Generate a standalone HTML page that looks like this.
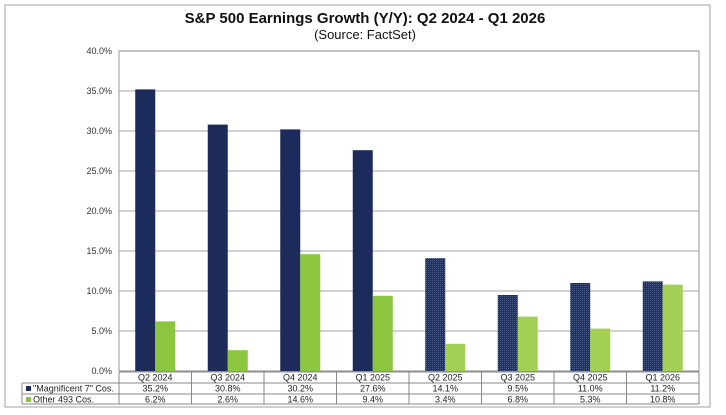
<!DOCTYPE html>
<html><head><meta charset="utf-8"><style>
body{margin:0;background:#fff;}
svg{display:block;font-family:"Liberation Sans",Arial,sans-serif;}
</style></head><body>
<svg id="c" width="726" height="415">
<defs>
<pattern id="dots" width="2" height="2" patternUnits="userSpaceOnUse">
<rect width="2" height="2" fill="#22315e"/><rect x="0" y="0" width="1" height="1" fill="#4a5a86"/>
</pattern>
</defs>
<rect x="5" y="5" width="705" height="402" fill="#fff" stroke="#a0a0a0"/>
<text x="365" y="23" text-anchor="middle" font-size="15" font-weight="bold" fill="#111">S&amp;P 500 Earnings Growth (Y/Y): Q2 2024 - Q1 2026</text>
<text x="365" y="39" text-anchor="middle" font-size="13" fill="#111">(Source: FactSet)</text>
<g id="grid"></g><g id="bars"></g><g id="table"></g>
</svg>
<script>
const categories=["Q2 2024","Q3 2024","Q4 2024","Q1 2025","Q2 2025","Q3 2025","Q4 2025","Q1 2026"];
const mag7=[35.2,30.8,30.2,27.6,14.1,9.5,11.0,11.2];
const other493=[6.2,2.6,14.6,9.4,3.4,6.8,5.3,10.8];
const yTicks=[0,5,10,15,20,25,30,35,40];
const estimateFrom=4;
const NS="http://www.w3.org/2000/svg";
const L=119,R=699,T=51,B=371,yMax=40;
const cw=(R-L)/categories.length;
const y=v=>B-(v/yMax)*(B-T);
const xc=i=>L+cw*(i+0.5);
function mk(tag,attrs,parent,text){const e=document.createElementNS(NS,tag);for(const k in attrs)e.setAttribute(k,attrs[k]);if(text!==undefined)e.textContent=text;document.getElementById(parent).appendChild(e);return e;}
yTicks.forEach(t=>{
 const g=mk('line',{x1:L,x2:R,y1:y(t),y2:y(t),stroke:'#b8b8b8','stroke-width':1.2},'grid');
 
 
 const lb=mk('text',{x:L-7,y:y(t)+3,'text-anchor':'end','font-size':9,fill:'#333'},'grid',t.toFixed(1)+'%');
 
 
});
const pb=mk('rect',{x:L,y:T,width:R-L,height:B-T,fill:'none',stroke:'#999'},'grid');


categories.forEach((c,i)=>{
 const cx=xc(i);
 const b1=mk('rect',{x:cx-20,y:y(mag7[i]),width:20,height:B-y(mag7[i]),fill:i>=estimateFrom?'url(#dots)':'#1c2b5a'},'bars');
 
 
 const b2=mk('rect',{x:cx,y:y(other493[i]),width:20,height:B-y(other493[i]),fill:i>=estimateFrom?'#a3cf55':'#8cc63e'},'bars');
 
 
});
const rows=[372,383,394,404];
const tl=22;
[[L,rows[0],R,rows[0]],[tl,rows[1],R,rows[1]],[tl,rows[2],R,rows[2]],[tl,rows[3],R,rows[3]],[tl,rows[1],tl,rows[3]],[R,rows[0],R,rows[3]]].forEach(a=>{
 const ln=mk('line',{x1:a[0],y1:a[1],x2:a[2],y2:a[3],stroke:'#888'},'table');
 
 
});
for(let i=0;i<=categories.length;i++){
 const ln=mk('line',{x1:L+cw*i,y1:rows[0],x2:L+cw*i,y2:rows[3],stroke:'#888'},'table');
 
 
}
categories.forEach((c,i)=>{
 const t=mk('text',{x:xc(i),y:rows[0]+8.5,'text-anchor':'middle','font-size':9,fill:'#222'},'table',c);
 
 
 const a=mk('text',{x:xc(i),y:rows[1]+8.5,'text-anchor':'middle','font-size':9,fill:'#222'},'table',mag7[i].toFixed(1)+'%');
 
 
 const b=mk('text',{x:xc(i),y:rows[2]+8.5,'text-anchor':'middle','font-size':9,fill:'#222'},'table',other493[i].toFixed(1)+'%');
 
 
});
const k1=mk('rect',{x:26,y:rows[1]+3,width:5,height:5,fill:'#1c2b5a'},'table');


const l1=mk('text',{x:33,y:rows[1]+8.5,'font-size':9,fill:'#222'},'table','"Magnificent 7" Cos.');


const k2=mk('rect',{x:26,y:rows[2]+3,width:5,height:5,fill:'#8cc63e'},'table');


const l2=mk('text',{x:33,y:rows[2]+8.5,'font-size':9,fill:'#222'},'table','Other 493 Cos.');


</script>
</body></html>
